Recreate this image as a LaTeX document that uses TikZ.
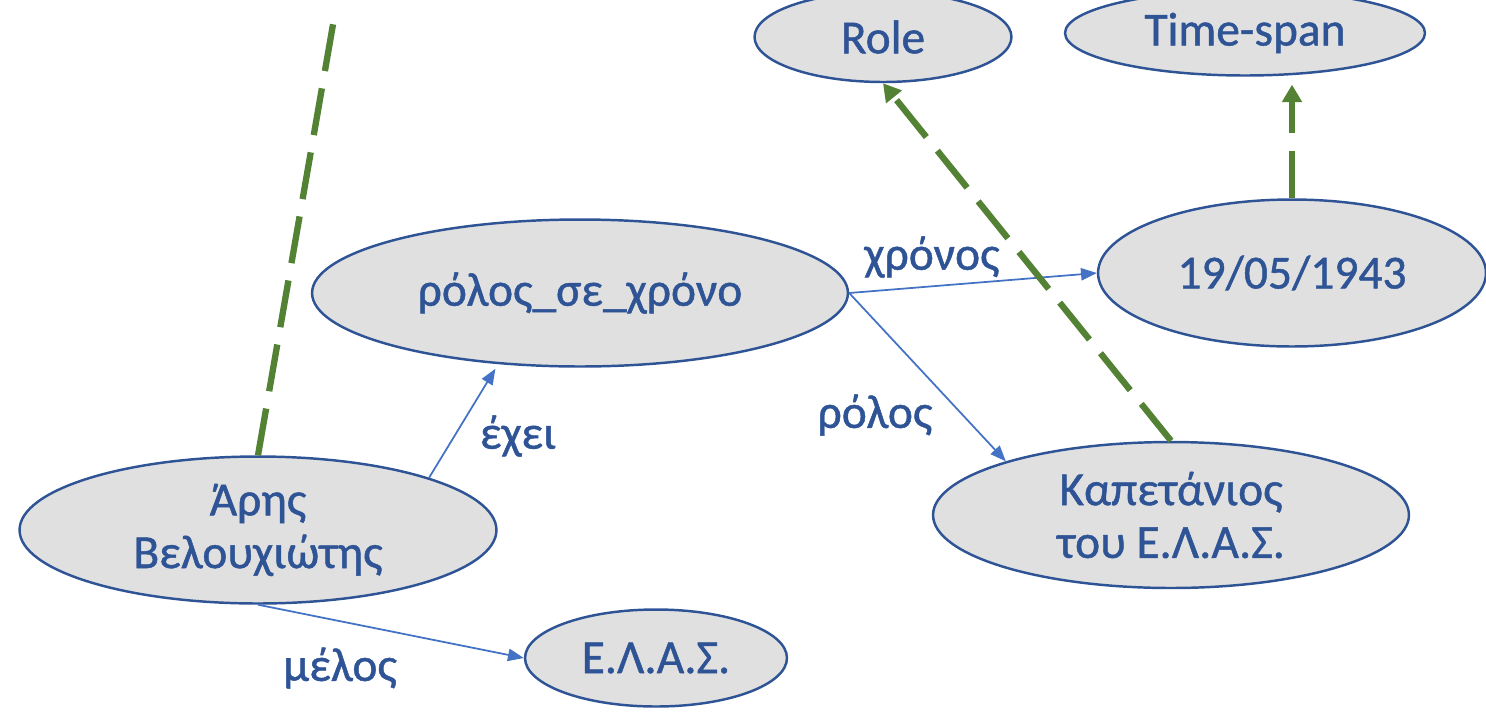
\documentclass[tikz,border=0pt]{standalone}
\usepackage{fontspec}
\setmainfont[BoldFont=Carlito, BoldFeatures={FakeBold=1.0}]{Carlito}
\usepackage{tikz}
\usetikzlibrary{shapes,arrows.meta}
\definecolor{inkblue}{RGB}{47,84,150}
\definecolor{linkblue}{RGB}{68,114,196}
\definecolor{fillgray}{RGB}{224,224,224}
\definecolor{typegreen}{RGB}{84,130,53}
\tikzstyle{concept} = [ellipse, draw=inkblue, line width=1.4pt, fill=fillgray,
    text=inkblue, align=center, inner sep=0pt, font=\fontsize{27}{30}\selectfont\bfseries]
\tikzstyle{relation} = [draw=linkblue, line width=1pt, -{Triangle[length=9pt,width=7pt]}]
\tikzstyle{typeof} = [draw=typegreen, line width=3.6pt, dash pattern=on 27pt off 10pt,
    -{Triangle[length=10pt,width=11pt]}]
\tikzstyle{edgetext} = [text=inkblue, font=\fontsize{27}{30}\selectfont\bfseries]

\begin{document}
\begin{tikzpicture}[x=0.02cm, y=-0.02cm]
		\useasboundingbox (0,0) rectangle (1486,714);
		\node [concept, minimum width=5.14cm, minimum height=1.8cm] (role) at (883,37) {Role};
		\node [concept, minimum width=7.2cm, minimum height=1.7cm] (timespan) at (1245,33) {Time-span};
		\node [concept, minimum width=7.76cm, minimum height=2.94cm] (date) at (1292,273) {19/05/1943};
		\node [concept, minimum width=10.72cm, minimum height=2.94cm] (roleintime) at (580,293) {ρόλος\_σε\_χρόνο};
		\node [concept, minimum width=9.54cm, minimum height=2.94cm] (aris) at (258,530) {Άρης\\ Βελουχιώτης};
		\node [concept, minimum width=9.52cm, minimum height=2.92cm] (captain) at (1171,515) {Καπετάνιος\\ του Ε.Λ.Α.Σ.};
		\node [concept, minimum width=5.24cm, minimum height=1.94cm] (elas) at (656,658) {Ε.Λ.Α.Σ.};
		\coordinate (upper) at (335,13);
		
		
		\draw [relation, shorten >=3pt] (aris.17) -- (roleintime.221);
		\draw [relation] (roleintime.east) -- (date.west);
		\draw [relation] (roleintime.east) -- (captain.162);
		\draw [relation] (aris.south) -- (elas.west);
		\node [edgetext] (has) at (518,436) {έχει};
		\node [edgetext] (time) at (932,257) {χρόνος};
		\node [edgetext] (rolelbl) at (875,415) {ρόλος};
		\node [edgetext] (member) at (340,668) {μέλος};
		
		\draw [typeof, -] (aris.north) -- (upper);
		\draw [typeof] (captain.north) -- (role.south);
		\draw [typeof, shorten >=4.5pt] (date.north) -- (date.north |- timespan.south);
		
		\end{tikzpicture}
\end{document}
